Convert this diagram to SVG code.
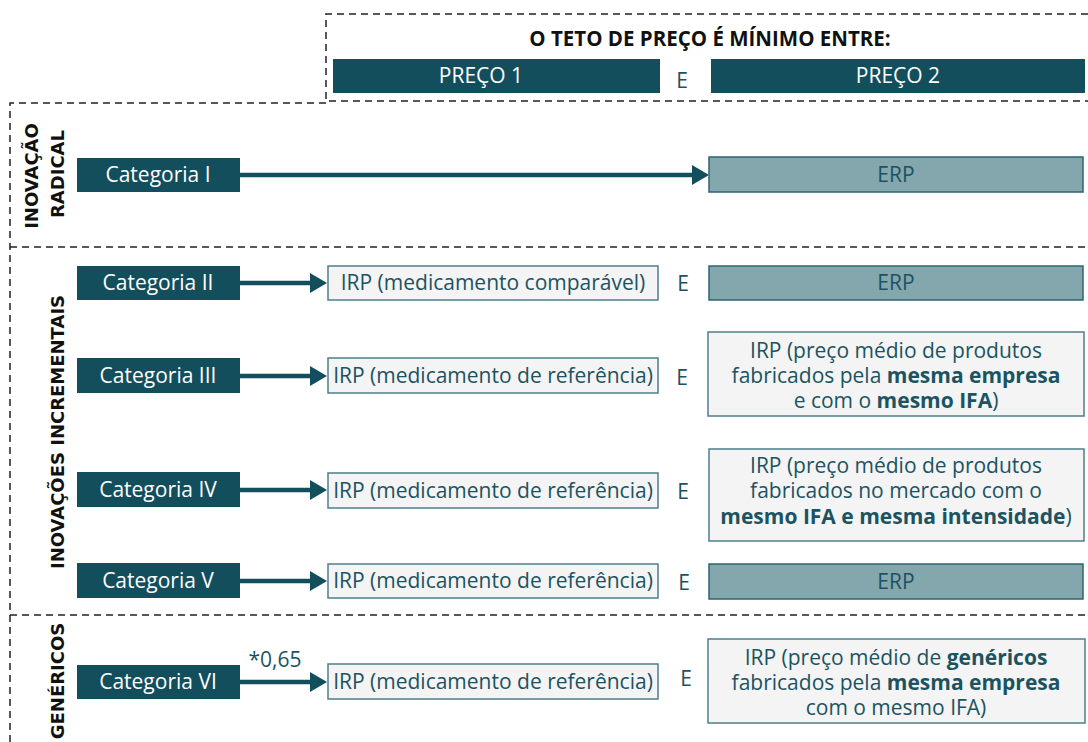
<svg xmlns="http://www.w3.org/2000/svg" width="1088" height="742" viewBox="0 0 1088 742">
<defs>
<style>
.dash{fill:none;stroke:#222;stroke-width:1.5;stroke-dasharray:7 5}
.cat{fill:#134e5c}
.catt{fill:#fff;font-family:"Open Sans",sans-serif;font-size:21px;text-anchor:middle}
.irp{fill:#f4f4f4;stroke:#4d7f8b;stroke-width:1.5}
.erp{fill:#84a6ad;stroke:#2e6571;stroke-width:1.5}
.t{fill:#1b5361;font-family:"Open Sans",sans-serif;font-size:21px;text-anchor:middle}
.b{font-weight:bold}
.vl{fill:#111;font-family:"DejaVu Sans",sans-serif;font-weight:bold;font-size:18px;text-anchor:middle}
.ttl{fill:#111;font-family:"Open Sans",sans-serif;font-weight:bold;font-size:20.5px;text-anchor:middle}
.ln{stroke:#134e5c;stroke-width:4.5;fill:none}
.hd{fill:#134e5c}
</style>
</defs>
<g id="frames">
<path class="dash" d="M1088,14 H326 V101 H1088"/>
<path class="dash" d="M326,103 H10 V742"/>
<path class="dash" d="M10,247 H1088"/>
<path class="dash" d="M10,615 H1088"/>
</g>
<g id="header">
<text class="ttl" x="710" y="46">O TETO DE PREÇO É MÍNIMO ENTRE:</text>
<g id="preco1"><rect class="cat" x="333" y="59" width="327" height="34"/><text class="catt" x="481" y="83">PREÇO 1</text></g>
<text class="t" x="682" y="88">E</text>
<g id="preco2"><rect class="cat" x="711" y="59" width="374" height="34"/><text class="catt" x="898" y="83">PREÇO 2</text></g>
</g>
<g id="labels">
<text class="vl" transform="translate(38,176) rotate(-90)">INOVAÇÃO</text>
<text class="vl" transform="translate(64,174) rotate(-90)">RADICAL</text>
<text class="vl" transform="translate(64,432) rotate(-90)">INOVAÇÕES INCREMENTAIS</text>
<text class="vl" transform="translate(64,681) rotate(-90)">GENÉRICOS</text>
</g>
<g id="connectors">
<line class="ln" x1="240" y1="175" x2="694" y2="175"/><path class="hd" d="M692,165 L709,175 L692,185 Z"/>
<line class="ln" x1="240" y1="283" x2="312" y2="283"/><path class="hd" d="M310,273 L327,283 L310,293 Z"/>
<line class="ln" x1="240" y1="376" x2="312" y2="376"/><path class="hd" d="M310,366 L327,376 L310,386 Z"/>
<line class="ln" x1="240" y1="490" x2="312" y2="490"/><path class="hd" d="M310,480 L327,490 L310,500 Z"/>
<line class="ln" x1="240" y1="581" x2="312" y2="581"/><path class="hd" d="M310,571 L327,581 L310,591 Z"/>
<line class="ln" x1="240" y1="682" x2="312" y2="682"/><path class="hd" d="M310,672 L327,682 L310,692 Z"/>
<text class="t" x="275" y="667">*0,65</text>
</g>
<g id="cat1"><rect class="cat" x="77" y="158" width="163" height="34"/><text class="catt" x="158" y="182">Categoria I</text></g>
<g id="erp1"><rect class="erp" x="709" y="157" width="374" height="35"/><text class="t" x="896" y="182">ERP</text></g>

<g id="cat2"><rect class="cat" x="77" y="266" width="163" height="34"/><text class="catt" x="158" y="290">Categoria II</text></g>
<g id="irp2"><rect class="irp" x="328" y="266" width="330" height="34"/><text class="t" x="493" y="290">IRP (medicamento comparável)</text></g>
<text class="t" x="683" y="291">E</text>
<g id="erp2"><rect class="erp" x="709" y="266" width="374" height="34"/><text class="t" x="896" y="290">ERP</text></g>

<g id="cat3"><rect class="cat" x="77" y="358" width="163" height="35"/><text class="catt" x="158" y="383">Categoria III</text></g>
<g id="irp3"><rect class="irp" x="328" y="358" width="330" height="35"/><text class="t" x="493" y="383">IRP (medicamento de referência)</text></g>
<text class="t" x="682" y="385">E</text>
<g id="r3"><rect class="irp" x="708" y="332" width="376" height="84"/>
<text class="t" x="896" y="358">IRP (preço médio de produtos</text>
<text class="t" x="896" y="383">fabricados pela <tspan class="b">mesma empresa</tspan></text>
<text class="t" x="896" y="408">e com o <tspan class="b">mesmo IFA</tspan>)</text></g>

<g id="cat4"><rect class="cat" x="77" y="472" width="163" height="35"/><text class="catt" x="158" y="497">Categoria IV</text></g>
<g id="irp4"><rect class="irp" x="328" y="473" width="330" height="35"/><text class="t" x="493" y="498">IRP (medicamento de referência)</text></g>
<text class="t" x="683" y="499">E</text>
<g id="r4"><rect class="irp" x="709" y="449" width="375" height="92"/>
<text class="t" x="896" y="473">IRP (preço médio de produtos</text>
<text class="t" x="896" y="498">fabricados no mercado com o</text>
<text class="t" x="896" y="524"><tspan class="b">mesmo IFA e mesma intensidade</tspan>)</text></g>

<g id="cat5"><rect class="cat" x="77" y="563" width="163" height="35"/><text class="catt" x="158" y="588">Categoria V</text></g>
<g id="irp5"><rect class="irp" x="328" y="564" width="330" height="34"/><text class="t" x="493" y="588">IRP (medicamento de referência)</text></g>
<text class="t" x="684" y="590">E</text>
<g id="erp5"><rect class="erp" x="709" y="564" width="374" height="35"/><text class="t" x="896" y="589">ERP</text></g>

<g id="cat6"><rect class="cat" x="77" y="665" width="163" height="34"/><text class="catt" x="158" y="689">Categoria VI</text></g>
<g id="irp6"><rect class="irp" x="328" y="664" width="330" height="35"/><text class="t" x="493" y="689">IRP (medicamento de referência)</text></g>
<text class="t" x="686" y="686">E</text>
<g id="r6"><rect class="irp" x="708" y="639" width="377" height="84"/>
<text class="t" x="896" y="665">IRP (preço médio de <tspan class="b">genéricos</tspan></text>
<text class="t" x="896" y="690">fabricados pela <tspan class="b">mesma empresa</tspan></text>
<text class="t" x="896" y="715">com o mesmo IFA)</text></g>
</svg>
